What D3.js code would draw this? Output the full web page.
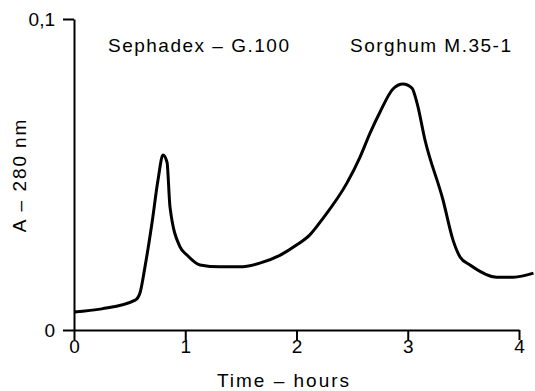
<!DOCTYPE html>
<html>
<head>
<meta charset="utf-8">
<script src="https://cdn.jsdelivr.net/npm/d3@7"></script>
<style>
  body { margin: 0; background: #fff; }
  text { font-family: "Liberation Sans", Arial, sans-serif; fill: #000; }
</style>
</head>
<body>
<div id="chart"></div>
<script>
// elution time (hours) and absorbance at 280 nm
const hours = [0, 0.25, 0.55, 0.593, 0.638, 0.701, 0.755, 0.80, 0.836, 0.863, 0.953, 1.016, 1.133,
    1.31, 1.49, 1.67, 1.85, 2.0, 2.12, 2.24, 2.454, 2.571, 2.661, 2.751, 2.867, 2.957, 3.038,
    3.083, 3.155, 3.317, 3.407, 3.47, 3.56, 3.8, 3.95, 4.13];
const absorbance = [0.0058, 0.0068, 0.0096, 0.0119, 0.0203, 0.0344, 0.0482, 0.0563, 0.054, 0.0395,
    0.0267, 0.0241, 0.0209, 0.0203, 0.0203, 0.0215, 0.024, 0.0273, 0.0306, 0.036, 0.0473, 0.0556,
    0.0633, 0.0701, 0.0775, 0.0791, 0.0778, 0.073, 0.0611, 0.0418, 0.0289, 0.0235, 0.0209, 0.017,
    0.017, 0.0183];
const xTicks = [0, 1, 2, 3, 4];
const yTicks = [0, 0.1];
const yTickLabels = ["0", "0,1"];
const peakLabels = ["Sephadex \u2013 G.100", "Sorghum M.35-1"];

const width = 535, height = 391;
const svg = d3.select("#chart").append("svg")
    .attr("width", width)
    .attr("height", height);

const x = d3.scaleLinear().domain([0, 4]).range([74, 519]);
const y = d3.scaleLinear().domain([0, 0.1]).range([330, 19]);

// x axis
const xAxis = svg.append("g")
    .attr("transform", `translate(0, ${y(0)})`)
    .call(d3.axisBottom(x).tickValues(xTicks).tickFormat(d3.format("d"))
        .tickSize(10).tickSizeOuter(0).tickPadding(0));

// y axis
const yAxis = svg.append("g")
    .attr("transform", `translate(${x(0)}, 0)`)
    .call(d3.axisLeft(y).tickValues(yTicks).tickFormat((d, i) => yTickLabels[i])
        .tickSize(11).tickSizeOuter(0).tickPadding(8));

[xAxis, yAxis].forEach(g => {
    g.selectAll("path, line").attr("stroke", "#000").attr("stroke-width", 2);
    g.selectAll("text").style("font-size", "19px")
        .style("font-family", "'Liberation Sans', Arial, sans-serif").attr("fill", "#000");
});
yAxis.selectAll("text").attr("dy", "0.36em");

// trace
const line = d3.line()
    .x((d, i) => x(hours[i]))
    .y(d => y(d))
    .curve(d3.curveMonotoneX);

svg.append("path")
    .datum(absorbance)
    .attr("d", line)
    .attr("fill", "none")
    .attr("stroke", "#000")
    .attr("stroke-width", 3)
    .attr("stroke-linejoin", "round");

// peak labels
svg.append("text").attr("x", 108).attr("y", 52)
    .style("font-size", "19px").style("letter-spacing", "1.5px").text(peakLabels[0]);
svg.append("text").attr("x", 350).attr("y", 52)
    .style("font-size", "19px").style("letter-spacing", "1.5px").text(peakLabels[1]);

// axis titles
svg.append("text")
    .attr("x", 284).attr("y", 387)
    .attr("text-anchor", "middle")
    .style("font-size", "19px")
    .style("letter-spacing", "2px")
    .text("Time \u2013 hours");

svg.append("text")
    .attr("transform", "translate(26, 175) rotate(-90)")
    .attr("text-anchor", "middle")
    .style("font-size", "19px")
    .style("letter-spacing", "2px")
    .text("A \u2013 280\u2009nm");
</script>
</body>
</html>
